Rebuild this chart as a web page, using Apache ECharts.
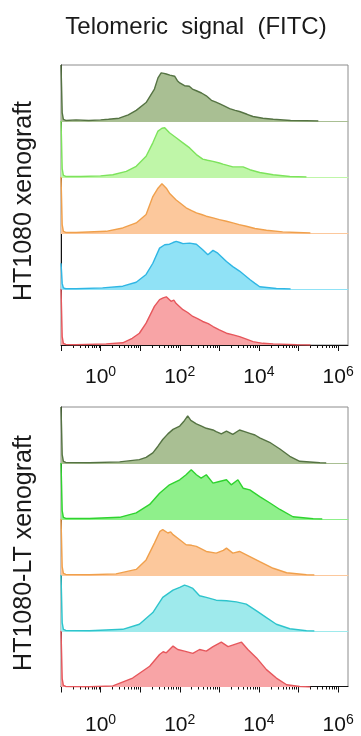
<!DOCTYPE html>
<html><head><meta charset="utf-8">
<script src="https://cdn.jsdelivr.net/npm/echarts@6/dist/echarts.min.js"></script>
<style>html,body{margin:0;padding:0;background:#fff}#c{width:361px;height:736px}</style>
</head><body><div id="c"></div><script>
// ---------- text ----------
const titleText = 'Telomeric  signal  (FITC)';
const panelLabels = ['HT1080 xenograft', 'HT1080-LT xenograft'];
// ---------- axis ticks (log10 of FITC intensity) ----------
const xMin = -1, xMax = 6.25;
const majorTicks = [-1, 0, 1, 2, 3, 4, 5, 6];
const labelTicks = [0, 2, 4, 6];
const minorMultipliers = [2, 3, 4, 5, 6, 7, 8, 9];
// ---------- histograms: [log10 FITC, relative count %] ----------
// Panel 1: HT1080 xenograft
const p1_olive = [[-1,100],[-0.985,60],[-0.97,15],[-0.94,3],[-0.88,1],[-0.62,2],[-0.3,1],[0,2],[0.2,3],[0.47,5],[0.7,11],[0.9,19],[1.15,33],[1.36,57],[1.45,77],[1.53,86],[1.6,85],[1.66,84],[1.75,82],[1.87,80],[1.94,72],[2.0,68],[2.12,63],[2.24,62],[2.32,57],[2.42,54],[2.55,50],[2.67,45],[2.8,37],[2.9,34],[3.0,31],[3.12,27],[3.26,22],[3.4,19],[3.51,17],[3.7,12],[3.85,8],[4.1,5],[4.36,3],[4.8,1],[5.2,0.5],[5.5,0]];
const p1_green = [[-1,100],[-0.985,60],[-0.97,15],[-0.94,3],[-0.88,1],[-0.5,1],[0,2],[0.31,4],[0.65,10],[0.9,19],[1.15,37],[1.32,61],[1.45,82],[1.55,87],[1.62,88],[1.74,79],[1.91,70],[2.08,61],[2.25,52],[2.42,40],[2.58,32],[2.7,30],[2.84,28],[3.0,25],[3.09,23],[3.34,18],[3.6,18],[3.77,13],[4.02,8],[4.36,4],[4.78,1],[5.2,0]];
const p1_orange = [[-1,100],[-0.985,60],[-0.97,15],[-0.94,3],[-0.88,1],[-0.62,1],[0.14,3],[0.56,9],[0.9,18],[1.15,33],[1.32,65],[1.45,80],[1.55,88],[1.59,90],[1.66,80],[1.74,71],[1.91,59],[2.0,54],[2.16,45],[2.3,40],[2.42,36],[2.55,33],[2.67,30],[2.84,27],[3.0,24],[3.18,21],[3.34,18],[3.5,15],[3.68,12],[3.9,8],[4.19,5],[4.6,2],[4.95,1],[5.3,0]];
const p1_blue = [[-1,46],[-0.985,30],[-0.97,10],[-0.94,2],[-0.88,0.5],[-0.62,0.5],[0.05,2],[0.56,5],[0.9,12],[1.15,26],[1.32,46],[1.49,73],[1.62,79],[1.74,80],[1.83,83],[1.91,85],[2.0,83],[2.08,81],[2.25,82],[2.42,80],[2.58,70],[2.71,61],[2.84,69],[2.96,64],[3.18,49],[3.34,40],[3.51,32],[3.77,17],[3.9,10],[4.02,4],[4.44,1],[4.8,0]];
const p1_red = [[-1,100],[-0.985,60],[-0.97,15],[-0.94,3],[-0.88,1],[-0.62,0.5],[0.14,2],[0.56,4],[0.8,12],[0.98,21],[1.15,39],[1.36,69],[1.49,81],[1.58,84],[1.66,86],[1.78,78],[1.85,80],[1.91,74],[2.08,63],[2.2,58],[2.33,51],[2.45,47],[2.58,42],[2.72,38],[2.84,33],[3.0,27],[3.18,21],[3.35,18],[3.51,15],[3.7,10],[3.85,6],[4.1,3],[4.36,2],[4.95,0.5],[5.3,0]];
// Panel 2: HT1080-LT xenograft
const p2_olive = [[-1,100],[-0.985,60],[-0.97,15],[-0.94,3],[-0.88,1],[-0.28,0.5],[0.48,2],[0.98,6],[1.15,10],[1.32,18],[1.45,30],[1.57,42],[1.7,52],[1.83,60],[2.0,66],[2.1,74],[2.2,84],[2.28,76],[2.42,70],[2.55,66],[2.67,62],[2.84,59],[2.92,56],[3.05,52],[3.18,57],[3.34,51],[3.51,59],[3.64,56],[3.77,53],[3.9,50],[4.02,45],[4.27,37],[4.53,25],[4.78,12],[5.03,3],[5.54,0.5],[5.7,0]];
const p2_green = [[-1,100],[-0.985,60],[-0.97,15],[-0.94,3],[-0.88,1],[-0.28,1],[0.48,3],[0.9,11],[1.24,26],[1.49,46],[1.74,61],[2.0,70],[2.16,79],[2.29,88],[2.42,79],[2.54,73],[2.67,79],[2.84,64],[3.0,67],[3.18,70],[3.3,61],[3.47,70],[3.6,55],[3.77,52],[4.02,40],[4.27,29],[4.53,17],[4.86,4],[5.37,0.5],[5.6,0]];
const p2_orange = [[-1,100],[-0.985,60],[-0.97,15],[-0.94,3],[-0.88,1],[-0.28,0.5],[0.39,2],[0.9,10],[1.15,27],[1.36,57],[1.5,78],[1.57,81],[1.7,75],[1.77,77],[1.83,72],[2.0,63],[2.16,54],[2.3,53],[2.42,51],[2.67,42],[2.92,39],[3.1,44],[3.18,48],[3.34,39],[3.51,42],[3.77,33],[4.02,24],[4.36,12],[4.7,4],[5.2,0.5],[5.4,0]];
const p2_cyan = [[-1,100],[-0.985,60],[-0.97,15],[-0.94,3],[-0.88,1],[-0.28,0.5],[0.56,3],[0.98,12],[1.32,33],[1.57,60],[1.83,73],[2.0,78],[2.12,82],[2.2,80],[2.33,76],[2.5,63],[2.67,60],[2.92,55],[3.18,54],[3.43,52],[3.68,48],[3.94,36],[4.19,24],[4.44,12],[4.78,4],[5.2,0.5],[5.4,0]];
const p2_red = [[-1,100],[-0.985,60],[-0.97,15],[-0.94,3],[-0.88,1],[-0.28,0.5],[0.31,2],[0.81,16],[1.24,37],[1.49,58],[1.58,63],[1.66,61],[1.83,73],[1.95,67],[2.12,64],[2.33,60],[2.5,67],[2.67,64],[2.84,72],[3.05,80],[3.22,72],[3.39,76],[3.56,80],[3.72,67],[3.94,52],[4.19,31],[4.44,16],[4.7,4],[5.03,1],[5.3,0]];

const panels = [
  [p1_olive, p1_green, p1_orange, p1_blue, p1_red],
  [p2_olive, p2_green, p2_orange, p2_cyan, p2_red]
];
const lineColors = [
  ['#557343', '#7de35c', '#f0a04c', '#2fb6e4', '#e6575c'],
  ['#557343', '#2fd32f', '#f0a04c', '#2ec4cc', '#e6575c']
];
const fillColors = [
  ['#a9bf93', '#bff6a8', '#fcc89c', '#90e2f6', '#f8a4a6'],
  ['#a9bf93', '#8ff08b', '#fcc89c', '#9eeaec', '#f8a4a6']
];

// ---------- layout ----------
const LEFT = 61, WIDTH = 287, PANEL_TOP = [65, 407], ROW_H = 56, ROWS = 5;
const LABEL_MARGIN = [20, 27];

const minorTicks = [];
majorTicks.forEach(n => minorMultipliers.forEach(k => {
  const v = n + Math.log10(k);
  if (v < xMax) minorTicks.push(v);
}));

const grid = [], xAxis = [], yAxis = [], series = [];
panels.forEach((rows, p) => {
  const gi = grid.length;
  grid.push({left: LEFT, top: PANEL_TOP[p], width: WIDTH, height: ROW_H * ROWS,
    show: true, borderColor: '#8c8c8c', borderWidth: 1, backgroundColor: 'transparent'});
  xAxis.push({type: 'value', gridIndex: gi, min: xMin, max: xMax, position: 'bottom', z: 1,
    axisLine: {show: true, onZero: false, lineStyle: {color: '#111', width: 1}},
    axisTick: {show: true, customValues: majorTicks, length: 6, lineStyle: {color: '#111', width: 1}},
    splitLine: {show: false},
    axisLabel: {show: true, customValues: labelTicks, margin: LABEL_MARGIN[p],
      formatter: v => '{b|10}{s|' + v + '}',
      rich: {
        b: {fontFamily: 'Liberation Sans', fontSize: 21, color: '#111', lineHeight: 24},
        s: {fontFamily: 'Liberation Sans', fontSize: 14, color: '#111', lineHeight: 14, verticalAlign: 'top'}
      }}});
  xAxis.push({type: 'value', gridIndex: gi, min: xMin, max: xMax, position: 'bottom', offset: 0, z: 1,
    axisLine: {show: false, onZero: false},
    axisTick: {show: true, customValues: minorTicks, length: 3, lineStyle: {color: '#111', width: 1}},
    splitLine: {show: false}, axisLabel: {show: false}});
  yAxis.push({type: 'value', gridIndex: gi, min: 0, max: 1, z: 0, position: 'left',
    axisLine: {show: true, onZero: false, lineStyle: {color: '#111', width: 1}},
    axisTick: {show: false}, axisLabel: {show: false}, splitLine: {show: false}});
  rows.forEach((data, r) => {
    const ri = grid.length;
    grid.push({left: LEFT, top: PANEL_TOP[p] + r * ROW_H, width: WIDTH, height: ROW_H});
    const xi = xAxis.length;
    xAxis.push({type: 'value', gridIndex: ri, min: xMin, max: xMax, z: 0,
      axisLine: {show: r < ROWS - 1, onZero: false, lineStyle: {color: fillColors[p][r], width: 1}},
      axisTick: {show: false}, axisLabel: {show: false}, splitLine: {show: false}});
    const yi = yAxis.length;
    yAxis.push({type: 'value', gridIndex: ri, min: 0, max: 100, show: false});
    series.push({type: 'line', xAxisIndex: xi, yAxisIndex: yi, data: data,
      symbol: 'none', smooth: false, clip: true, z: 2,
      lineStyle: {color: lineColors[p][r], width: 1.4},
      areaStyle: {color: fillColors[p][r], opacity: 1}});
  });
});

const chart = echarts.init(document.getElementById('c'), null, {renderer: 'canvas'});
chart.setOption({
  animation: false,
  backgroundColor: '#fff',
  title: {text: titleText, left: 191, top: 10, textAlign: 'center',
    textStyle: {fontFamily: 'Liberation Sans', fontSize: 24, fontWeight: 'normal', color: '#1a1a1a'}},
  grid, xAxis, yAxis, series,
  graphic: panelLabels.map((t, p) => ({
    type: 'text', x: 24, y: PANEL_TOP[p] + (p === 0 ? 136 : 146), rotation: Math.PI / 2,
    style: {text: t, fontFamily: 'Liberation Sans', fontSize: 25, fill: '#1a1a1a',
      align: 'center', verticalAlign: 'middle'}
  }))
});
</script></body></html>
